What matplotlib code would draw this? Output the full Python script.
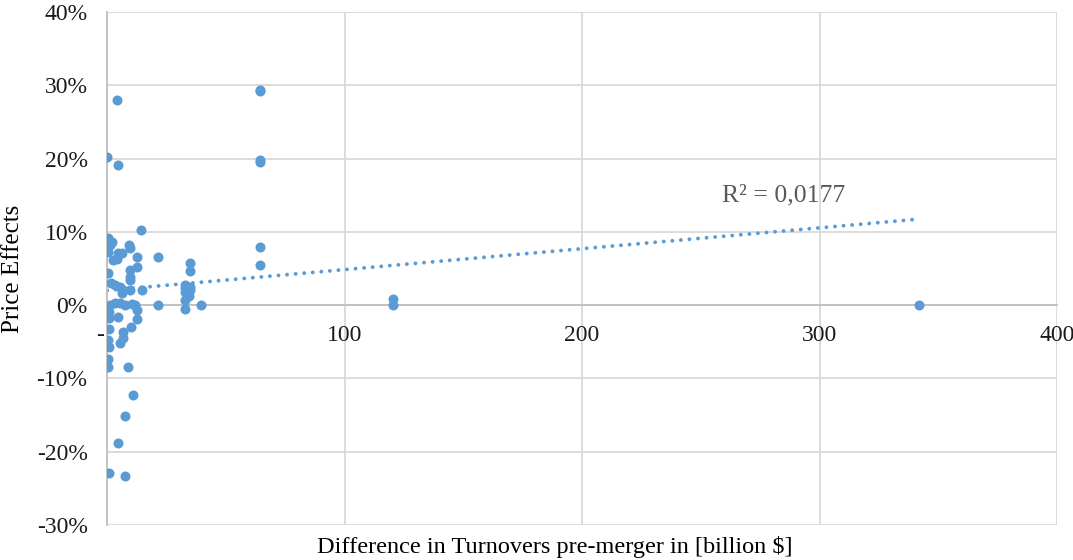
import numpy as np
import matplotlib.pyplot as plt
from matplotlib.ticker import FuncFormatter

# --- data (x in billion $, y as fraction) ---
turnover_diff = [
    0.2, 4.2, 4.6, 14.4, 0.4,
    64.4, 64.4, 64.4, 64.4, 64.4, 64.4,
    120.4, 120.4, 342.0,
    0.5, 2.1, 1.2, 9.3, 9.7, 0.5, 4.6, 6.3, 2.5, 4.2,
    12.6, 21.5, 34.9, 34.9, 12.6, 9.7, 0.5, 9.7, 9.7, 1.7, 3.4, 5.5, 6.7, 9.7,
    14.7, 6.3, 32.8, 32.8, 32.8, 34.9, 34.9, 34.5, 32.8,
    21.5, 32.8, 39.6,
    0.1, 1.2, 3.4, 5.5, 7.6, 10.5, 11.8, 12.6,
    0.8, 4.6, 0.8, 12.6, 10.1, 0.8, 6.7, 6.7, 0.4, 5.5, 0.8, 0.4, 0.4, 8.8,
    11.0, 7.6, 4.6, 0.8, 7.6,
]
price_effect = [
    0.202, 0.280, 0.191, 0.102, 0.091,
    0.294, 0.292, 0.198, 0.195, 0.080, 0.055,
    0.008, 0.000, 0.000,
    0.088, 0.086, 0.082, 0.082, 0.078, 0.072, 0.071, 0.071, 0.061, 0.063,
    0.066, 0.066, 0.057, 0.046, 0.052, 0.048, 0.044, 0.038, 0.034, 0.030, 0.027, 0.025, 0.020, 0.020,
    0.020, 0.016, 0.027, 0.023, 0.018, 0.025, 0.020, 0.012, 0.007,
    0.000, -0.005, 0.000,
    -0.002, 0.000, 0.003, 0.003, 0.000, 0.001, 0.000, -0.007,
    -0.010, -0.016, -0.018, -0.019, -0.030, -0.033, -0.037, -0.045, -0.048, -0.052, -0.057, -0.073, -0.084, -0.084,
    -0.123, -0.151, -0.188, -0.229, -0.233,
]

# linear trendline as shown in the chart
trend_intercept = 0.020
trend_slope = 0.000285
r2_label = "R² = 0,0177"

x_ticks = [0, 100, 200, 300, 400]
y_ticks = np.arange(-0.3, 0.41, 0.1)

plt.rcParams['font.family'] = ['Liberation Serif', 'DejaVu Serif']

fig = plt.figure(figsize=(10.73, 5.6), dpi=100)
ax = fig.add_axes([107 / 1073, 1 - 525 / 560, 950 / 1073, 513 / 560])

grid_c = '#d9d9d9'
ax.set_xlim(0, 400)
ax.set_ylim(-0.3, 0.4)
ax.set_xticks(x_ticks)
ax.set_yticks(y_ticks)
ax.grid(True, color=grid_c, linewidth=1.3, zorder=0)
ax.set_axisbelow(True)

for s in ['top', 'right']:
    ax.spines[s].set_visible(False)
ax.spines['left'].set_color('#bfbfbf')
ax.spines['left'].set_linewidth(1.3)
ax.spines['bottom'].set_position(('data', 0))
ax.spines['bottom'].set_color('#bfbfbf')
ax.spines['bottom'].set_linewidth(1.3)
ax.tick_params(length=0, labelsize=17, colors='#1a1a1a')
ax.tick_params(axis='x', pad=14)
ax.tick_params(axis='y', pad=14)
ax.xaxis.set_major_formatter(FuncFormatter(lambda v, p: '-  ' if v == 0 else f'{v:.0f}'))
ax.yaxis.set_major_formatter(FuncFormatter(lambda v, p: f'{v * 100:.0f}%'))

ax.scatter(turnover_diff, price_effect, s=52, color='#5b9bd5', zorder=3, linewidths=0)

tx = np.linspace(min(turnover_diff), max(turnover_diff), 50)
ax.plot(tx, trend_intercept + trend_slope * tx, linestyle=(0, (0.01, 2.2)),
        dash_capstyle='round', color='#5b9bd5', linewidth=2.8, zorder=2)
ax.text(259, 0.149, r2_label, fontsize=18.5, color='#595959', va='center', ha='left')

ax.set_ylabel('Price Effects', fontsize=18, color='black')
ax.yaxis.set_label_coords(-0.087, 0.5)
fig.text(555 / 1073, 1 - 547 / 560, 'Difference in Turnovers pre-merger in [billion $]',
         fontsize=17.5, ha='center', va='center')

fig.savefig('out.png', dpi=100)
